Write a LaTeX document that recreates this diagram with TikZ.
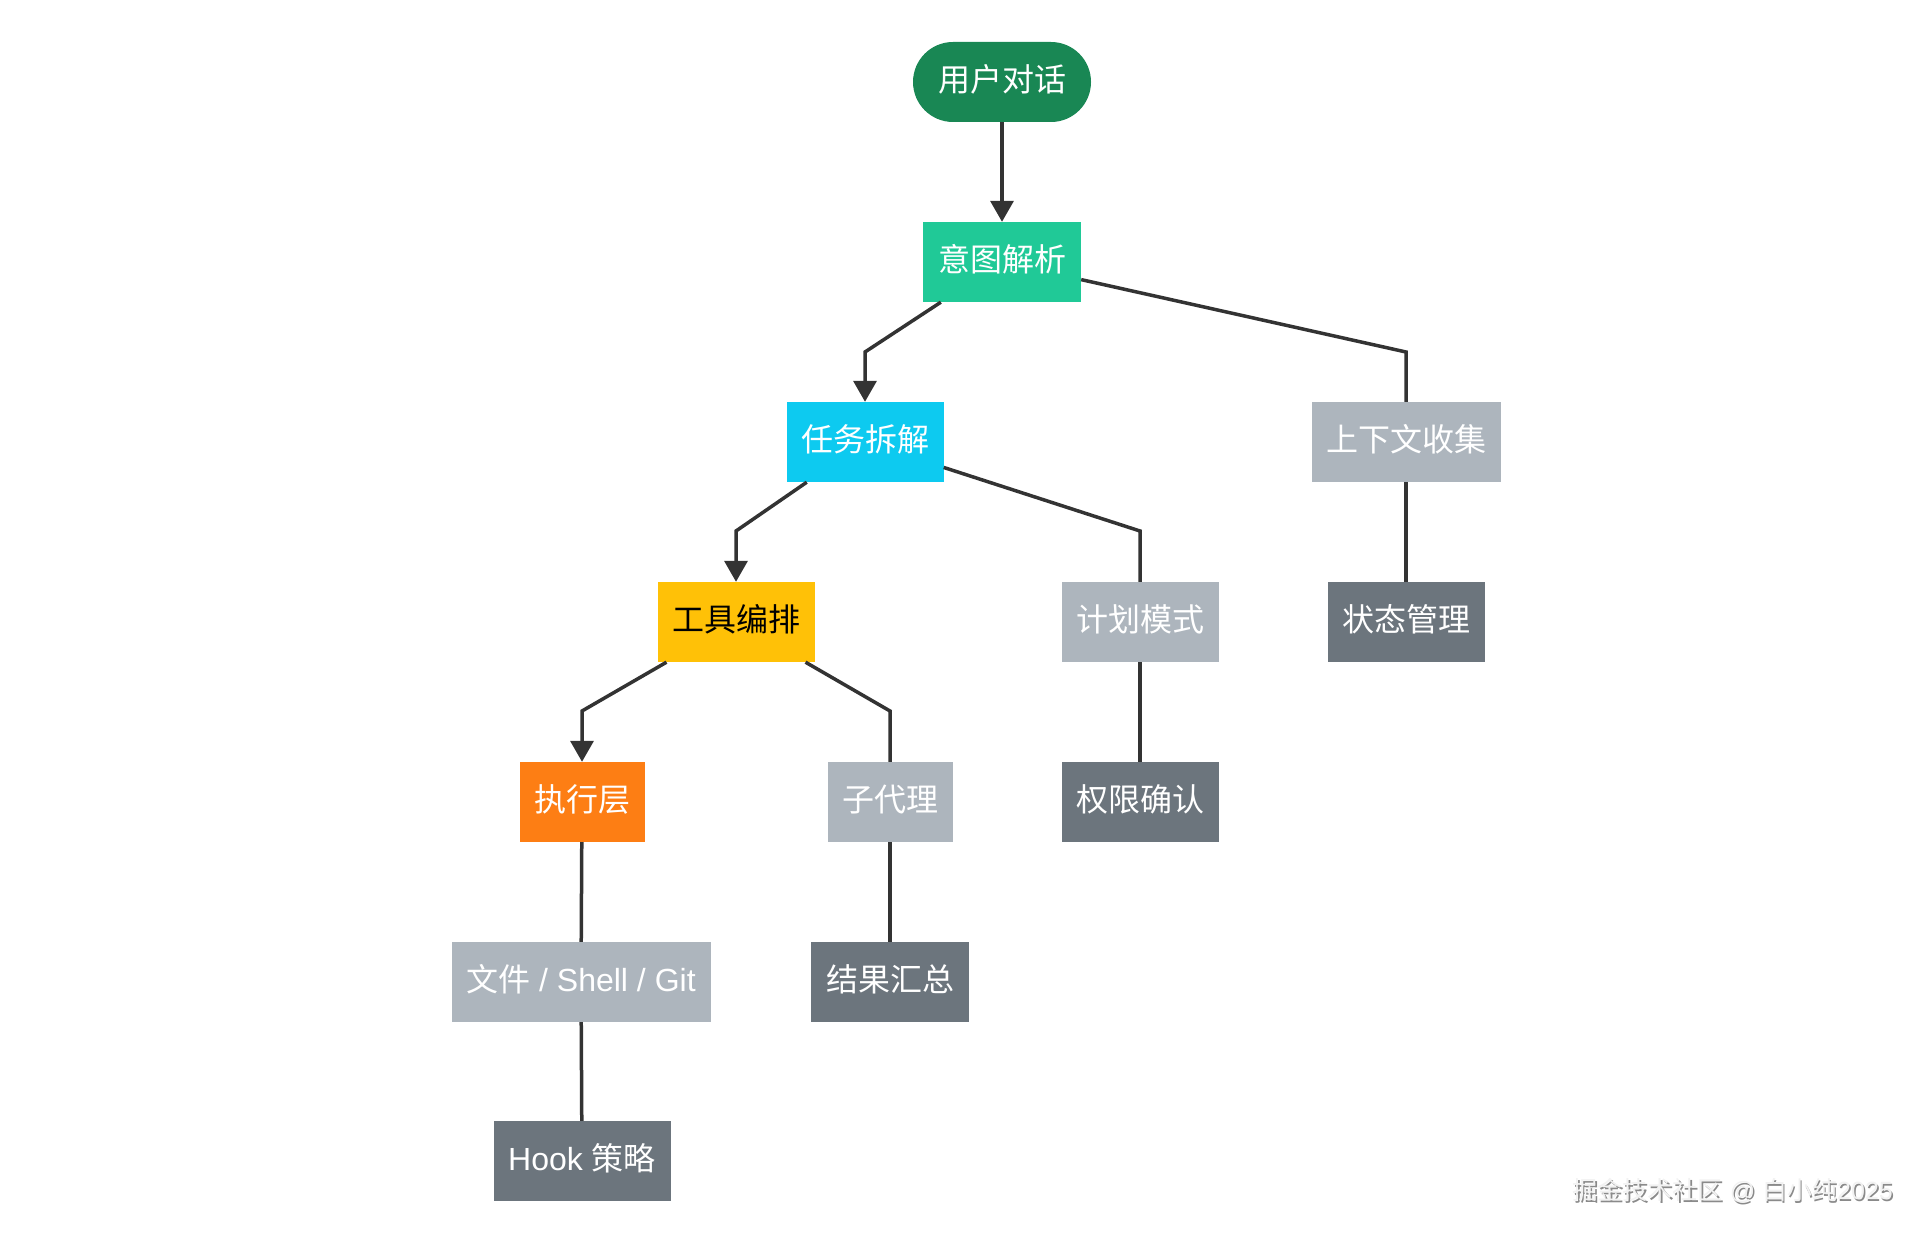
\documentclass[tikz,border=0pt]{standalone}
\usepackage{fontspec}
\setmainfont{Liberation Sans}
\newfontfamily\cjk{Noto Sans CJK SC}
\usetikzlibrary{arrows.meta}
\definecolor{cgreen}{HTML}{198754}
\definecolor{cteal}{HTML}{20C997}
\definecolor{ccyan}{HTML}{0DCAF0}
\definecolor{cyellow}{HTML}{FFC107}
\definecolor{corange}{HTML}{FD7E14}
\definecolor{clight}{HTML}{ADB5BD}
\definecolor{cdark}{HTML}{6C757D}
\definecolor{cline}{HTML}{333333}
\definecolor{cwm}{HTML}{F2F2F2}
\definecolor{cwmsh}{HTML}{8A8A8A}
\begin{document}
\begin{tikzpicture}[x=1pt,y=-1pt,
  box/.style={rectangle, minimum height=80, inner sep=0, text=white,
    text height=24, text depth=5,
    font=\cjk\fontsize{32}{38}\selectfont},
  pill/.style={box, rounded corners=40},
  light/.style={box, fill=clight},
  dark/.style={box, fill=cdark},
  conn/.style={draw=cline, line width=3.5},
  arr/.style={conn, -{Triangle[length=21,width=23]}},
  wm/.style={anchor=east, inner sep=0, font=\fontsize{25}{30}\selectfont}
]
\useasboundingbox (0,0) rectangle (1924,1238);

\node[pill, fill=cgreen, minimum width=178] (user) at (1002,82) {用户对话};
\node[box, fill=cteal, minimum width=158] (intent) at (1002,262) {意图解析};
\node[box, fill=ccyan, minimum width=157] (task) at (865,442) {任务拆解};
\node[light, minimum width=189] (ctx) at (1406,442) {上下文收集};
\node[box, fill=cyellow, text=black, minimum width=157] (tool) at (736,622) {工具编排};
\node[light, minimum width=157] (plan) at (1140,622) {计划模式};
\node[dark, minimum width=157] (state) at (1406,622) {状态管理};
\node[box, fill=corange, minimum width=125] (exec) at (582,802) {执行层};
\node[light, minimum width=125] (sub) at (890,802) {子代理};
\node[dark, minimum width=157] (perm) at (1140,802) {权限确认};
\node[light, minimum width=259, font=\fontsize{32}{38}\selectfont] (files) at (581,982) {{\cjk 文件} / Shell / Git};
\node[dark, minimum width=158] (summ) at (890,982) {结果汇总};
\node[dark, minimum width=177, font=\fontsize{32}{38}\selectfont] (hook) at (582,1161) {Hook {\cjk 策略}};

\coordinate (b1) at (865,352);
\coordinate (b2) at (1406,352);
\coordinate (b3) at (736,531);
\coordinate (b4) at (1140,531);
\coordinate (b5) at (582,711);
\coordinate (b6) at (890,711);

\draw[arr] (user) -- (intent);
\draw[arr] (intent) -- (b1) -- (task);
\draw[conn] (intent) -- (b2) -- (ctx);
\draw[arr] (task) -- (b3) -- (tool);
\draw[conn] (task) -- (b4) -- (plan);
\draw[conn] (ctx) -- (state);
\draw[arr] (tool) -- (b5) -- (exec);
\draw[conn] (tool) -- (b6) -- (sub);
\draw[conn] (plan) -- (perm);
\draw[conn] (exec) -- (files);
\draw[conn] (sub) -- (summ);
\draw[conn] (files) -- (hook);

\node[wm, text=cwmsh] (wmsh) at (1894.5,1192.5) {{\cjk 掘金技术社区} @ {\cjk 白小纯}2025};
\node[wm, text=cwm] (wmark) at (1893,1191) {{\cjk 掘金技术社区} @ {\cjk 白小纯}2025};
\end{tikzpicture}
\end{document}
